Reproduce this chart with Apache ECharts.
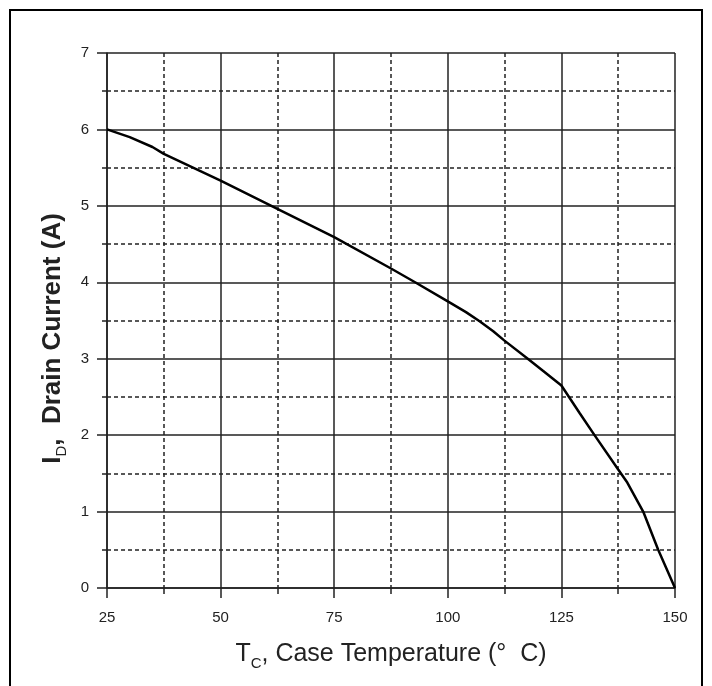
<!DOCTYPE html>
<html>
<head>
<meta charset="utf-8">
<script src="https://cdn.jsdelivr.net/npm/echarts@6/dist/echarts.min.js"></script>
<style>
  html, body { margin: 0; padding: 0; background: #fff; }
  #chart { width: 712px; height: 686px; }
</style>
</head>
<body>
<div id="chart"></div>
<script>
// case temperature (deg C) and drain current (A)
var caseTemp = [25, 30, 35, 37.5, 50, 61.5, 75, 87.5, 92.8, 100, 104, 107, 110, 112.4, 117.6, 121, 125, 129, 132.4, 137.5, 139.5, 143, 146.3, 150];
var drainCurrent = [6, 5.9, 5.77, 5.68, 5.33, 4.99, 4.59, 4.18, 4.0, 3.75, 3.61, 3.49, 3.36, 3.24, 3.0, 2.84, 2.65, 2.29, 1.99, 1.55, 1.38, 1.0, 0.5, 0];

var xTicks = [25, 50, 75, 100, 125, 150];
var yTicks = [0, 1, 2, 3, 4, 5, 6, 7];

var points = caseTemp.map((t, i) => [t, drainCurrent[i]]);

var chart = echarts.init(document.getElementById('chart'));

var labelFont = 'Liberation Sans, Arial, sans-serif';

chart.setOption({
    backgroundColor: '#fff',
    animation: false,
    grid: {
        left: 107,
        right: 37,
        top: 53,
        bottom: 98
    },
    graphic: [
        {
            type: 'rect',
            shape: { x: 10, y: 10, width: 692, height: 700 },
            style: { fill: 'none', stroke: '#000', lineWidth: 2 },
            silent: true
        }
    ],
    xAxis: {
        type: 'value',
        min: xTicks[0],
        max: xTicks[xTicks.length - 1],
        interval: 25,
        name: '{m|T}{s|C}{m|, Case Temperature (°  C)}',
        nameLocation: 'middle',
        nameGap: 50,
        nameTextStyle: {
            rich: {
                m: { fontFamily: labelFont, fontSize: 25, color: '#222' },
                s: { fontFamily: labelFont, fontSize: 15, color: '#222', padding: [18, 0, 0, 0] }
            }
        },
        axisLine: { show: true, lineStyle: { color: '#222', width: 1.5 } },
        axisTick: { show: true, length: 10, lineStyle: { color: '#222', width: 1.5 } },
        minorTick: { show: true, splitNumber: 2, length: 6, lineStyle: { color: '#222', width: 1.5 } },
        axisLabel: {
            margin: 22,
            fontFamily: labelFont,
            fontSize: 15,
            color: '#222'
        },
        splitLine: { show: true, lineStyle: { color: '#222', width: 1.5 } },
        minorSplitLine: { show: true, lineStyle: { color: '#222', width: 1.5, type: [4, 3] } }
    },
    yAxis: {
        type: 'value',
        min: yTicks[0],
        max: yTicks[yTicks.length - 1],
        interval: 1,
        name: '{m|I}{s|D}{m|,  Drain Current (A)}',
        nameLocation: 'middle',
        nameGap: 38,
        nameRotate: 90,
        nameTextStyle: {
            padding: [0, 0, 0, -36],
            rich: {
                m: { fontFamily: labelFont, fontSize: 26, fontWeight: 'bold', color: '#222' },
                s: { fontFamily: labelFont, fontSize: 15, color: '#222', padding: [18, 0, 0, 0] }
            }
        },
        axisLine: { show: true, lineStyle: { color: '#222', width: 1.5 } },
        axisTick: { show: true, length: 10, lineStyle: { color: '#222', width: 1.5 } },
        minorTick: { show: true, splitNumber: 2, length: 5, lineStyle: { color: '#222', width: 1.5 } },
        axisLabel: {
            margin: 18,
            fontFamily: labelFont,
            fontSize: 15,
            color: '#222'
        },
        splitLine: { show: true, lineStyle: { color: '#222', width: 1.5 } },
        minorSplitLine: { show: true, lineStyle: { color: '#222', width: 1.5, type: [4, 3] } }
    },
    series: [
        {
            type: 'line',
            data: points,
            showSymbol: false,
            smooth: false,
            lineStyle: { color: '#000', width: 2.5 },
            z: 5
        }
    ]
});
</script>
</body>
</html>
